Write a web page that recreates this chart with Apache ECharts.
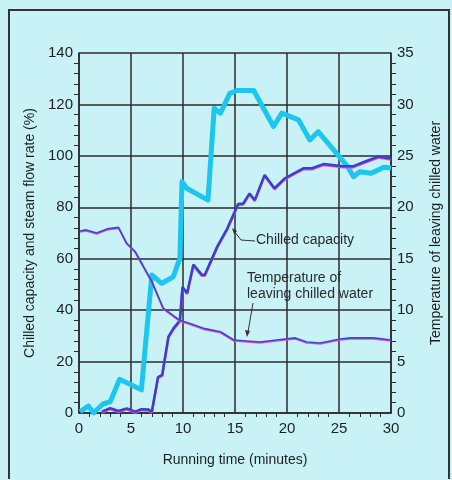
<!DOCTYPE html>
<html>
<head>
<meta charset="utf-8">
<script src="https://cdn.jsdelivr.net/npm/echarts@6/dist/echarts.min.js"></script>
<style>
html,body{margin:0;padding:0;background:#c8f2f6;}
#chart{width:452px;height:480px;}
</style>
</head>
<body>
<div id="chart"></div>
<script>
// 蒸汽流量(粗线)
var steamTime = [0.1, 0.9, 1.4, 2.3, 3.0, 3.9, 6.0, 7.0, 7.95, 9.07, 9.4, 9.7, 9.9, 10.35, 12.4, 13.0, 13.6, 14.5, 15.2, 16.8, 18.7, 19.5, 21.1, 22.2, 23.0, 25.8, 26.4, 27.0, 28.1, 29.3, 30.0];
var steamFlow = [0.5, 2.7, 0.1, 3.5, 4.4, 13.1, 9.0, 53.7, 50.4, 53.0, 56.9, 60, 90, 87.4, 82.8, 118.5, 116.6, 124.3, 125.4, 125.4, 111.4, 116.6, 114, 106.2, 109.4, 96, 91.9, 93.8, 93.2, 95.6, 95.3];
// 制冷量
var capTime = [2.2, 3.0, 3.8, 4.6, 5.4, 6.0, 6.7, 7.0, 7.6, 8.0, 8.6, 9.1, 9.7, 9.95, 10.4, 11.0, 11.8, 12.1, 13.3, 14.2, 15.3, 15.8, 16.4, 16.9, 17.85, 18.8, 19.8, 21.6, 22.4, 23.5, 25.4, 26.4, 27.7, 28.8, 30.0];
var capValue = [0.5, 1.9, 0.8, 1.8, 0.5, 1.5, 1.4, 0.5, 14, 14.8, 29.7, 33, 36, 49, 46.7, 57.7, 53.8, 53.8, 64.8, 71.3, 81.3, 81.5, 85.4, 82.8, 92.6, 87.4, 91.3, 95.2, 95.2, 96.8, 96, 96, 98.1, 99.7, 99];
// 冷水出水温度(右轴)
var tempTime = [0.1, 0.7, 1.7, 2.7, 3.8, 4.6, 5.4, 7.0, 8.1, 9.7, 10.4, 12.1, 13.6, 14.9, 17.4, 19.0, 20.8, 21.9, 23.2, 25.1, 26.1, 28.3, 30.0];
var tempValue = [17.7, 17.8, 17.5, 17.9, 18.05, 16.5, 15.7, 12.8, 10.2, 9.0, 8.8, 8.2, 7.9, 7.1, 6.9, 7.1, 7.3, 6.9, 6.8, 7.2, 7.3, 7.3, 7.1];

function pairs(xs, ys) {
    var out = [];
    for (var i = 0; i < xs.length; i++) out.push([xs[i], ys[i]]);
    return out;
}

var font = "'Liberation Sans', Arial, sans-serif";
var dark = '#2e2a2a';
var txt = '#1e1e1e';

var myChart = echarts.init(document.getElementById('chart'));
var option = {
    backgroundColor: '#c8f2f6',
    animation: false,
    grid: {left: 79, right: 61, top: 53, bottom: 67},
    xAxis: {
        type: 'value', min: 0, max: 30, interval: 5,
        name: 'Running time (minutes)', nameLocation: 'middle', nameGap: 40,
        nameTextStyle: {fontFamily: font, fontSize: 14, color: txt},
        axisLine: {lineStyle: {color: dark, width: 1.5}},
        axisTick: {show: false},
        minorTick: {show: true, splitNumber: 5, inside: true, length: 4, lineStyle: {color: dark}},
        splitLine: {show: true, lineStyle: {color: dark, width: 1.5}},
        axisLabel: {fontFamily: font, fontSize: 15, color: txt, margin: 8}
    },
    yAxis: [{
        type: 'value', min: 0, max: 140, interval: 20,
        name: 'Chilled capacity and steam flow rate (%)', nameLocation: 'middle', nameGap: 41,
        nameTextStyle: {fontFamily: font, fontSize: 14, color: txt},
        axisLine: {show: true, lineStyle: {color: dark, width: 1.5}},
        axisTick: {show: false},
        minorTick: {show: true, splitNumber: 5, inside: true, length: 5, lineStyle: {color: dark}},
        splitLine: {show: true, lineStyle: {color: dark, width: 1.5}},
        axisLabel: {fontFamily: font, fontSize: 15, color: txt, margin: 6}
    }, {
        type: 'value', min: 0, max: 35, interval: 5,
        name: 'Temperature of leaving chilled water', nameLocation: 'middle', nameGap: 38,
        nameTextStyle: {fontFamily: font, fontSize: 14, color: txt},
        axisLine: {show: true, lineStyle: {color: dark, width: 1.5}},
        axisTick: {show: false},
        minorTick: {show: true, splitNumber: 5, inside: true, length: 5, lineStyle: {color: dark}},
        splitLine: {show: false},
        axisLabel: {fontFamily: font, fontSize: 15, color: txt, margin: 6}
    }],
    series: [{
        name: 'Steam flow rate', type: 'line', yAxisIndex: 0,
        data: pairs(steamTime, steamFlow), symbol: 'none',
        lineStyle: {color: '#1cc6ee', width: 5, join: 'round'}
    }, {
        name: 'Chilled capacity', type: 'line', yAxisIndex: 0,
        data: pairs(capTime, capValue), symbol: 'none',
        lineStyle: {color: '#3a40c8', width: 2.5, shadowColor: '#e050d8', shadowOffsetY: 1, shadowBlur: 0}
    }, {
        name: 'Temperature of leaving chilled water', type: 'line', yAxisIndex: 1,
        data: pairs(tempTime, tempValue), symbol: 'none',
        lineStyle: {color: '#3c48c8', width: 1.6, shadowColor: '#e050d8', shadowOffsetY: 1, shadowBlur: 0}
    }],
    graphic: [
        {type: 'polyline', silent: true, shape: {points: [[9, 479], [9, 10], [449, 10], [449, 479]]},
            style: {stroke: '#333', lineWidth: 2, fill: null}},
        {type: 'text', left: 256, top: 233, style: {text: 'Chilled capacity', font: '14px ' + font, fill: '#2a2a2a'}},
        {type: 'polyline', shape: {points: [[234, 231], [241, 240], [255, 241]]}, style: {stroke: '#333', lineWidth: 1, fill: null}},
        {type: 'polygon', shape: {points: [[232, 228], [237, 231], [234, 234]]}, style: {fill: '#333'}},
        {type: 'text', left: 247, top: 270, style: {text: 'Temperature of\nleaving chilled water', font: '14px ' + font, fill: '#2a2a2a', lineHeight: 16}},
        {type: 'line', shape: {x1: 253, y1: 303, x2: 248, y2: 332}, style: {stroke: '#333', lineWidth: 1}},
        {type: 'polygon', shape: {points: [[247, 337], [245, 330], [250, 331]]}, style: {fill: '#333'}}
    ]
};
myChart.setOption(option);
</script>
</body>
</html>
